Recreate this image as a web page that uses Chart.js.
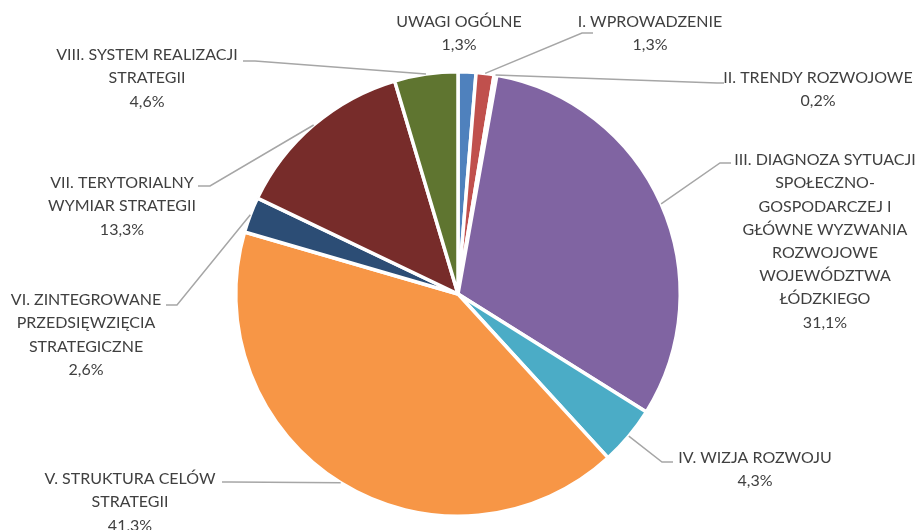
<!DOCTYPE html>
<html>
<head>
<meta charset="utf-8">
<script src="https://cdn.jsdelivr.net/npm/chart.js@4/dist/chart.umd.min.js"></script>
<style>
  body { margin: 0; background: #fff; }
  canvas { display: block; }
</style>
</head>
<body>
<canvas id="myPieChart" width="916" height="530"></canvas>
<script>
// Chart data
const categories = [
  ['UWAGI OGÓLNE'],
  ['I. WPROWADZENIE'],
  ['II. TRENDY ROZWOJOWE'],
  ['III. DIAGNOZA SYTUACJI', 'SPOŁECZNO-', 'GOSPODARCZEJ I', 'GŁÓWNE WYZWANIA', 'ROZWOJOWE', 'WOJEWÓDZTWA', 'ŁÓDZKIEGO'],
  ['IV. WIZJA ROZWOJU'],
  ['V. STRUKTURA CELÓW', 'STRATEGII'],
  ['VI. ZINTEGROWANE', 'PRZEDSIĘWZIĘCIA', 'STRATEGICZNE'],
  ['VII. TERYTORIALNY', 'WYMIAR STRATEGII'],
  ['VIII. SYSTEM REALIZACJI', 'STRATEGII'],
];
const shares = [1.3, 1.3, 0.2, 31.1, 4.3, 41.3, 2.6, 13.3, 4.6];
const colors = ['#4F81BD', '#C0504D', '#9BBB59', '#8064A2', '#4BACC6', '#F79646', '#2C4D75', '#772C2A', '#5F7530'];

// Where each label sits: text centre x, first line y, leader elbow and end
const labelLayout = [
  { cx: 459, y: 22, line: null },
  { cx: 650, y: 22, line: [[582, 33], [593, 33]] },
  { cx: 818, y: 78, line: [[717, 83], [724, 83]] },
  { cx: 825, y: 160, line: [[720, 163], [731, 163]] },
  { cx: 755, y: 458, line: [[662, 462], [673, 462]] },
  { cx: 130, y: 479, line: [[230, 482], [222, 482]] },
  { cx: 86, y: 300, line: [[177, 305], [166, 305]] },
  { cx: 122, y: 183, line: [[210, 186], [198, 186]] },
  { cx: 147, y: 55, line: [[255, 61], [243, 61]] },
];

// Draw the labels and leader lines
const labelPlugin = {
  id: 'pieLabels',
  afterDraw(chart) {
    const ctx = chart.ctx;
    const meta = chart.getDatasetMeta(0);
    ctx.save();
    meta.data.forEach((arc, i) => {
      const p = arc.getProps(['x', 'y', 'startAngle', 'endAngle', 'outerRadius'], true);
      const mid = (p.startAngle + p.endAngle) / 2;
      const ax = p.x + Math.cos(mid) * p.outerRadius;
      const ay = p.y + Math.sin(mid) * p.outerRadius;
      const lay = labelLayout[i];
      if (lay.line) {
        ctx.strokeStyle = '#A6A6A6';
        ctx.lineWidth = 1.5;
        ctx.beginPath();
        ctx.moveTo(ax, ay);
        ctx.lineTo(lay.line[0][0], lay.line[0][1]);
        ctx.lineTo(lay.line[1][0], lay.line[1][1]);
        ctx.stroke();
      }
      const lines = categories[i].concat([shares[i].toFixed(1).replace('.', ',') + '%']);
      ctx.fillStyle = '#404040';
      ctx.font = '16px Lato';
      ctx.textAlign = 'center';
      ctx.textBaseline = 'middle';
      lines.forEach((t, k) => {
        ctx.fillText(t, lay.cx, lay.y + k * 23.2);
      });
    });
    ctx.restore();
  },
};

const ctx = document.getElementById('myPieChart').getContext('2d');
const chart = new Chart(ctx, {
  type: 'pie',
  data: {
    labels: categories.map((c) => c.join(' ')),
    datasets: [
      {
        data: shares,
        backgroundColor: colors,
        borderColor: '#FFFFFF',
        borderWidth: 3.5,
        hoverOffset: 0,
      },
    ],
  },
  options: {
    responsive: false,
    animation: false,
    layout: { padding: { top: 70, bottom: 12, left: 0, right: 0 } },
    plugins: {
      legend: { display: false },
      tooltip: { enabled: false },
    },
  },
  plugins: [labelPlugin],
});
</script>
</body>
</html>
